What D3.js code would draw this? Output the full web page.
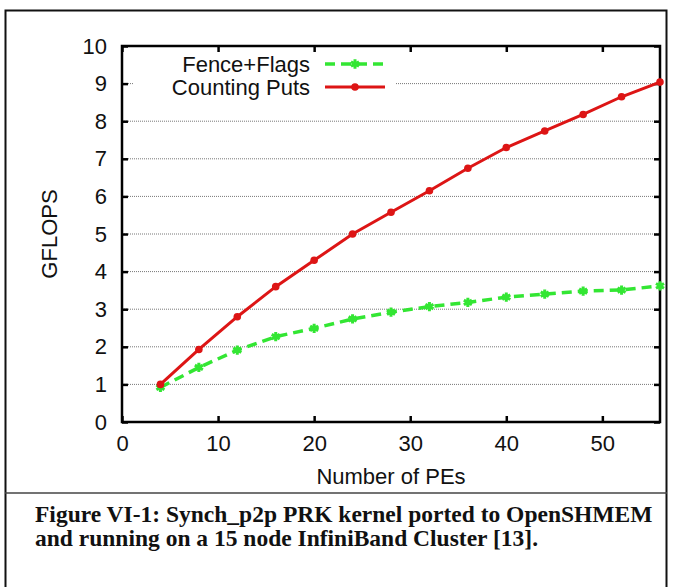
<!DOCTYPE html>
<html>
<head>
<meta charset="utf-8">
<script src="https://cdn.jsdelivr.net/npm/d3@7"></script>
<style>
  body { margin: 0; background: #fff; }
  svg { display: block; }
</style>
</head>
<body>
<svg id="chart" width="676" height="587"></svg>
<script>
// number of PEs on the x axis, GFLOPS
const pes = [4, 8, 12, 16, 20, 24, 28, 32, 36, 40, 44, 48, 52, 56];
const fence_flags = [0.92, 1.45, 1.91, 2.27, 2.49, 2.74, 2.92, 3.07, 3.18, 3.32, 3.40, 3.48, 3.51, 3.62];
const counting_puts = [1.0, 1.93, 2.80, 3.60, 4.30, 5.0, 5.58, 6.15, 6.75, 7.30, 7.74, 8.18, 8.65, 9.04];
const x_ticks = [0, 10, 20, 30, 40, 50];
const y_ticks = [0, 1, 2, 3, 4, 5, 6, 7, 8, 9, 10];
const series_names = ["Fence+Flags", "Counting Puts"];
const caption_lines = [
  "Figure VI-1: Synch_p2p PRK kernel ported to OpenSHMEM",
  "and running on a 15 node InfiniBand Cluster [13]."
];

const svg = d3.select("#chart");
const plot = { left: 122, right: 660, top: 46, bottom: 422 };
const green = "#33e633";
const red = "#dd1515";

// outer figure box and the rule above the caption
svg.append("rect")
  .attr("x", 5.5).attr("y", 10.5).attr("width", 661).attr("height", 600)
  .attr("fill", "none").attr("stroke", "#111").attr("stroke-width", 2);
svg.append("line")
  .attr("x1", 5).attr("x2", 667).attr("y1", 493).attr("y2", 493)
  .attr("stroke", "#444").attr("stroke-width", 1.5);

const x = d3.scaleLinear().domain([0, 56]).range([plot.left, plot.right]);
const y = d3.scaleLinear().domain([0, 10]).range([plot.bottom, plot.top]);

// dotted grid
svg.append("g").selectAll("line").data(y_ticks.slice(1, -1)).enter()
  .append("line")
  .attr("x1", plot.left).attr("x2", plot.right)
  .attr("y1", d => y(d)).attr("y2", d => y(d))
  .attr("stroke", "#777").attr("stroke-width", 1)
  .attr("stroke-dasharray", "1,1");

// legend box hides the grid behind it
svg.append("rect")
  .attr("x", 134).attr("y", 50).attr("width", 262).attr("height", 50)
  .attr("fill", "#fff");

const font = "'Liberation Sans', Arial, Helvetica, sans-serif";

const style_axis = (g, labels) => {
  g.select(".domain").remove();
  g.selectAll(".tick line").attr("stroke", "#000").attr("stroke-width", 2.5);
  g.selectAll(".tick text")
    .attr("fill", "#111")
    .style("font-family", font).style("font-size", "22px");
  if (!labels) g.selectAll(".tick text").remove();
};

svg.append("g")
  .attr("transform", `translate(0,${plot.bottom})`)
  .call(d3.axisBottom(x).tickValues(x_ticks).tickSize(-6).tickPadding(13))
  .call(g => style_axis(g, true));
svg.append("g")
  .attr("transform", `translate(0,${plot.top})`)
  .call(d3.axisTop(x).tickValues(x_ticks).tickSize(-6))
  .call(g => style_axis(g, false));
svg.append("g")
  .attr("transform", `translate(${plot.left},0)`)
  .call(d3.axisLeft(y).tickValues(y_ticks).tickSize(-6).tickPadding(15))
  .call(g => style_axis(g, true));
svg.append("g")
  .attr("transform", `translate(${plot.right},0)`)
  .call(d3.axisRight(y).tickValues(y_ticks).tickSize(-6))
  .call(g => style_axis(g, false));

// plot frame
svg.append("rect")
  .attr("x", plot.left).attr("y", plot.top)
  .attr("width", plot.right - plot.left).attr("height", plot.bottom - plot.top)
  .attr("fill", "none").attr("stroke", "#000").attr("stroke-width", 2.5);

// axis titles
svg.append("text")
  .attr("x", (plot.left + plot.right) / 2).attr("y", 484)
  .attr("text-anchor", "middle")
  .style("font-family", font).style("font-size", "22px").attr("fill", "#111")
  .text("Number of PEs");
svg.append("text")
  .attr("transform", `translate(57,${(plot.top + plot.bottom) / 2}) rotate(-90)`)
  .attr("text-anchor", "middle")
  .style("font-family", font).style("font-size", "22px").attr("fill", "#111")
  .text("GFLOPS");

// series
const line = d3.line().x(d => x(d[0])).y(d => y(d[1]));
const green_pts = pes.map((p, i) => [p, fence_flags[i]]);
const red_pts = pes.map((p, i) => [p, counting_puts[i]]);

const star = d3.symbol().type(d3.symbolAsterisk).size(60);

svg.append("path").datum(green_pts)
  .attr("d", line).attr("fill", "none")
  .attr("stroke", green).attr("stroke-width", 3.5)
  .attr("stroke-dasharray", "10,6");
svg.append("g").selectAll("path").data(green_pts).enter()
  .append("path")
  .attr("d", star)
  .attr("transform", d => `translate(${x(d[0])},${y(d[1])})`)
  .attr("stroke", green).attr("stroke-width", 3).attr("fill", "none");

svg.append("path").datum(red_pts)
  .attr("d", line).attr("fill", "none")
  .attr("stroke", red).attr("stroke-width", 3);
svg.append("g").selectAll("circle").data(red_pts).enter()
  .append("circle")
  .attr("cx", d => x(d[0])).attr("cy", d => y(d[1]))
  .attr("r", 3.8).attr("fill", red);

// legend
const legend_rows = [
  { name: series_names[0], color: green, dash: "10,6", marker: "star", y: 64 },
  { name: series_names[1], color: red, dash: null, marker: "dot", y: 87 }
];
const legend = svg.append("g");
legend_rows.forEach(r => {
  legend.append("text")
    .attr("x", 310).attr("y", r.y + 8)
    .attr("text-anchor", "end")
    .style("font-family", font).style("font-size", "22px").attr("fill", "#111")
    .text(r.name);
  legend.append("line")
    .attr("x1", 325).attr("x2", 385).attr("y1", r.y).attr("y2", r.y)
    .attr("stroke", r.color).attr("stroke-width", r.marker == "star" ? 3.5 : 3)
    .attr("stroke-dasharray", r.dash);
  if (r.marker == "star") {
    legend.append("path").attr("d", star)
      .attr("transform", `translate(355,${r.y})`)
      .attr("stroke", r.color).attr("stroke-width", 3).attr("fill", "none");
  } else {
    legend.append("circle").attr("cx", 355).attr("cy", r.y).attr("r", 3.8)
      .attr("fill", r.color);
  }
});

// caption
svg.append("g").selectAll("text").data(caption_lines).enter()
  .append("text")
  .attr("x", 35).attr("y", (d, i) => 522 + i * 24)
  .style("font-family", "'Liberation Serif', 'Times New Roman', serif")
  .style("font-weight", "bold").style("font-size", "23.5px").attr("fill", "#111")
  .text(d => d);
</script>
</body>
</html>
